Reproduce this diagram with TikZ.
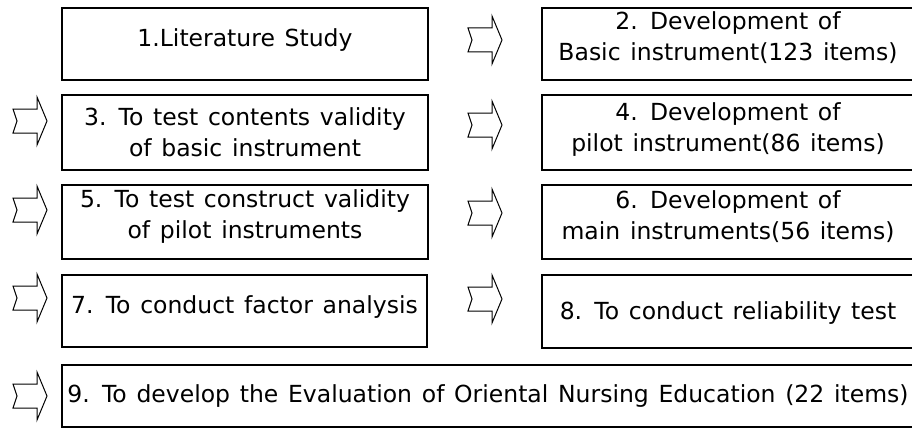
\documentclass[tikz,border=0pt]{standalone}
\usepackage{fontspec}
\setmainfont{DejaVu Sans}[WordSpace=1.3]
\begin{document}
\begin{tikzpicture}[x=1pt,y=-1pt,
  stepbox/.style={draw=black, line width=2pt, inner sep=0pt},
  steptext/.style={inner sep=0pt, align=center, font=\fontsize{23.5}{31}\selectfont},
  blockarr/.pic={\draw[line width=1pt, line join=miter]
     (-17,-12) -- (7,-12) -- (7,-24) -- (17,0) -- (7,24) -- (7,12) -- (-17,12) -- (-13,0) -- cycle;}
]
\useasboundingbox (0,0) rectangle (912,428);
% left column boxes
\node[stepbox, minimum width=366pt, minimum height=72pt] (b1) at (245,44) {};
\node[stepbox, minimum width=366pt, minimum height=75pt] (b3) at (245,132.5) {};
\node[stepbox, minimum width=366pt, minimum height=74pt] (b5) at (245,222) {};
\node[stepbox, minimum width=365pt, minimum height=72pt] (b7) at (244.5,311) {};
% right column boxes
\node[stepbox, minimum width=372pt, minimum height=72pt] (b2) at (728,44) {};
\node[stepbox, minimum width=372pt, minimum height=75pt] (b4) at (728,132.5) {};
\node[stepbox, minimum width=372pt, minimum height=74pt] (b6) at (728,222) {};
\node[stepbox, minimum width=372pt, minimum height=73pt] (b8) at (728,311.5) {};
% bottom box
\node[stepbox, minimum width=852pt, minimum height=62pt] (b9) at (488,396) {};
% texts
\node[steptext] (t1) at ([yshift=4pt]b1.center) {1.Literature Study};
\node[steptext] (t3) at ([yshift=0pt]b3.center) {3. To test contents validity\\of basic instrument};
\node[steptext] (t5) at ([yshift=5pt]b5.center) {5. To test construct validity\\of pilot instruments};
\node[steptext] (t7) at ([yshift=4pt]b7.center) {7. To conduct factor analysis};
\node[steptext] (t2) at ([yshift=6pt]b2.center) {2. Development of\\Basic instrument(123 items)};
\node[steptext] (t4) at ([yshift=3pt]b4.center) {4. Development of\\pilot instrument(86 items)};
\node[steptext] (t6) at ([yshift=5pt]b6.center) {6. Development of\\main instruments(56 items)};
\node[steptext] (t8) at ([yshift=-2pt]b8.center) {8. To conduct reliability test};
\node[steptext] (t9) at ([yshift=0pt]b9.center) {9. To develop the Evaluation of Oriental Nursing Education (22 items)};
% arrows
\pic (a3) at (30,121) {blockarr};
\pic (a5) at (30,210) {blockarr};
\pic (a7) at (30,298) {blockarr};
\pic (a9) at (30,396) {blockarr};
\pic (a2) at (485,40) {blockarr};
\pic (a4) at (485,125) {blockarr};
\pic (a6) at (485,213) {blockarr};
\pic (a8) at (485,299) {blockarr};
\end{tikzpicture}
\end{document}
